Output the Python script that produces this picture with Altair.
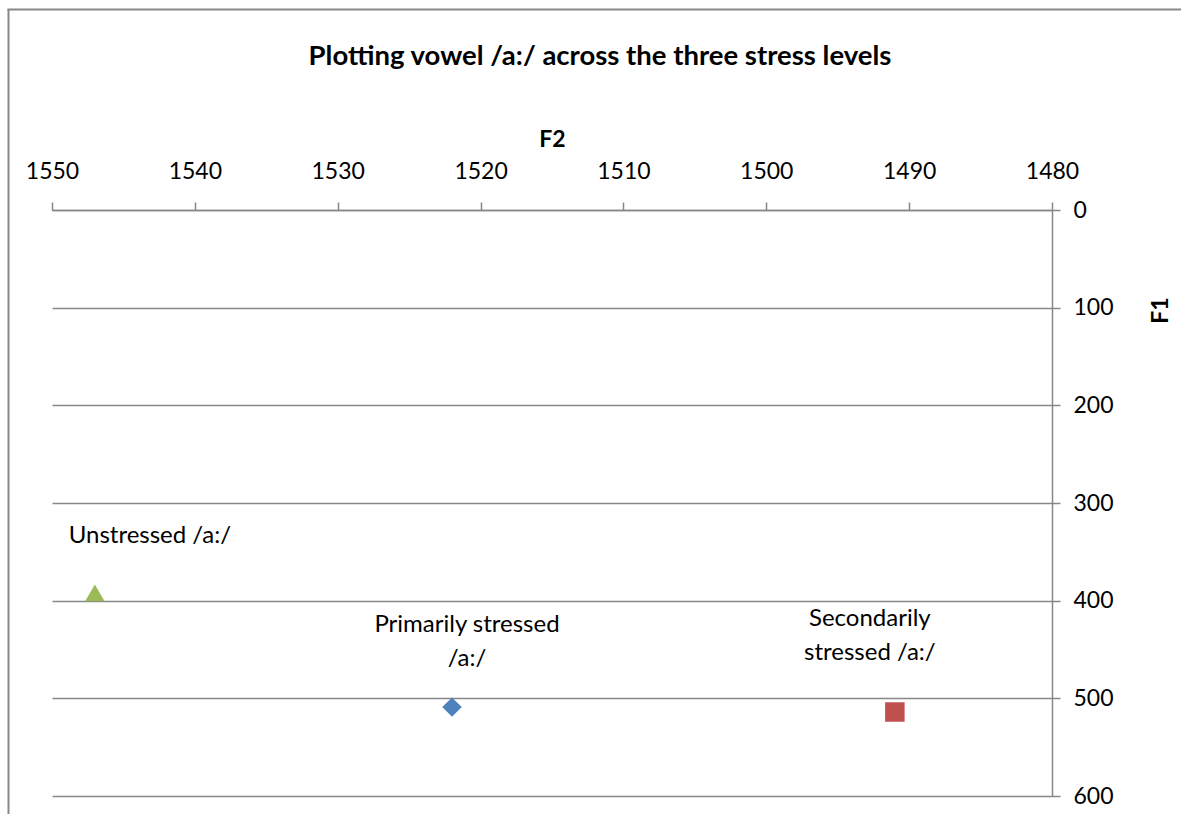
import altair as alt
import pandas as pd

# Formant means of /a:/ for each stress level
stress = ["Primarily stressed", "Secondarily stressed", "Unstressed"]
f2_values = [1522, 1491, 1547]
f1_values = [509, 514, 392]
point_labels = ["Primarily stressed\n/a:/", "Secondarily\nstressed /a:/", "Unstressed /a:/"]

marker_shapes = ["diamond", "square", "triangle-up"]
marker_colors = ["#4F81BD", "#C0504D", "#9BBB59"]

f2_ticks = [1550, 1540, 1530, 1520, 1510, 1500, 1490, 1480]
f1_ticks = [0, 100, 200, 300, 400, 500, 600]

# label offsets (pixels) from each marker; dy points at the first text line
label_offsets = {
    "Primarily stressed": (15, -82),
    "Secondarily stressed": (-25, -93),
    "Unstressed": (55, -57),
}

df = pd.DataFrame({"stress": stress, "F2": f2_values, "F1": f1_values, "label": point_labels})

FONT = "Lato"
GREY = "#878787"
AXIS_FS = 23
TEXT_FS = 24
TITLE_FS = 27.5

x_enc = alt.X(
    "F2:Q",
    scale=alt.Scale(domain=[1480, 1550], reverse=True, nice=False, zero=False),
    axis=alt.Axis(
        orient="top", values=f2_ticks, format="d", title="F2", grid=False,
        domainColor=GREY, domainWidth=1.5, tickColor=GREY, tickWidth=1.5, tickSize=8,
        labelFont=FONT, labelFontSize=AXIS_FS, labelColor="black", labelPadding=19,
        titleFont=FONT, titleFontSize=AXIS_FS, titleFontWeight="bold", titleColor="black",
        titlePadding=9, labelFlush=False, labelOverlap=False,
    ),
)
y_enc = alt.Y(
    "F1:Q",
    scale=alt.Scale(domain=[0, 600], reverse=True, nice=False),
    axis=alt.Axis(
        orient="right", values=f1_ticks, format="d", title="F1", grid=True,
        gridColor=GREY, gridWidth=1.5,
        domainColor=GREY, domainWidth=1.5, tickColor=GREY, tickWidth=1.5, tickSize=8,
        labelFont=FONT, labelFontSize=AXIS_FS, labelColor="black", labelPadding=13,
        labelBaseline="middle", labelFlush=False, labelOverlap=False,
        titleFont=FONT, titleFontSize=AXIS_FS, titleFontWeight="bold", titleColor="black",
        titleAngle=270, titleX=108, titleY=100, titleAlign="center", titleBaseline="middle",
    ),
)

base = alt.Chart(df)

points = base.mark_point(filled=True, opacity=1, size=380).encode(
    x=x_enc,
    y=y_enc,
    shape=alt.Shape("stress:N", scale=alt.Scale(domain=stress, range=marker_shapes), legend=None),
    color=alt.Color("stress:N", scale=alt.Scale(domain=stress, range=marker_colors), legend=None),
)

text_layers = []
for s in stress:
    dx, dy = label_offsets[s]
    text_layers.append(
        base.transform_filter(alt.datum.stress == s)
        .mark_text(dx=dx, dy=dy, align="center", baseline="middle", lineBreak="\n",
                   lineHeight=34, font=FONT, fontSize=TEXT_FS, color="black")
        .encode(x=x_enc, y=y_enc, text="label:N")
    )

# outer chart-area frame
frame_df = pd.DataFrame({"k": [0]})
frame_left = alt.Chart(frame_df).mark_rule(color="#888888", strokeWidth=2).encode(
    x=alt.value(-43.5), y=alt.value(-201), y2=alt.value(700)
)
frame_top = alt.Chart(frame_df).mark_rule(color="#888888", strokeWidth=2).encode(
    x=alt.value(-44.5), x2=alt.value(1200), y=alt.value(-200.5)
)

chart = alt.layer(frame_left, frame_top, points, *text_layers).properties(
    width=1000,
    height=586,
    autosize=alt.AutoSizeParams(type="none"),
    padding={"left": 52, "top": 210, "right": 129, "bottom": 18},
    background="white",
    title=alt.TitleParams(
        "Plotting vowel /a:/ across the three stress levels",
        font=FONT, fontSize=TITLE_FS, fontWeight="bold", color="black",
        anchor="middle", frame="group", baseline="middle", offset=0, dx=48, dy=76,
    ),
).configure_view(stroke=None)

chart.save("out.html", embed_options={"renderer": "svg", "actions": False})
